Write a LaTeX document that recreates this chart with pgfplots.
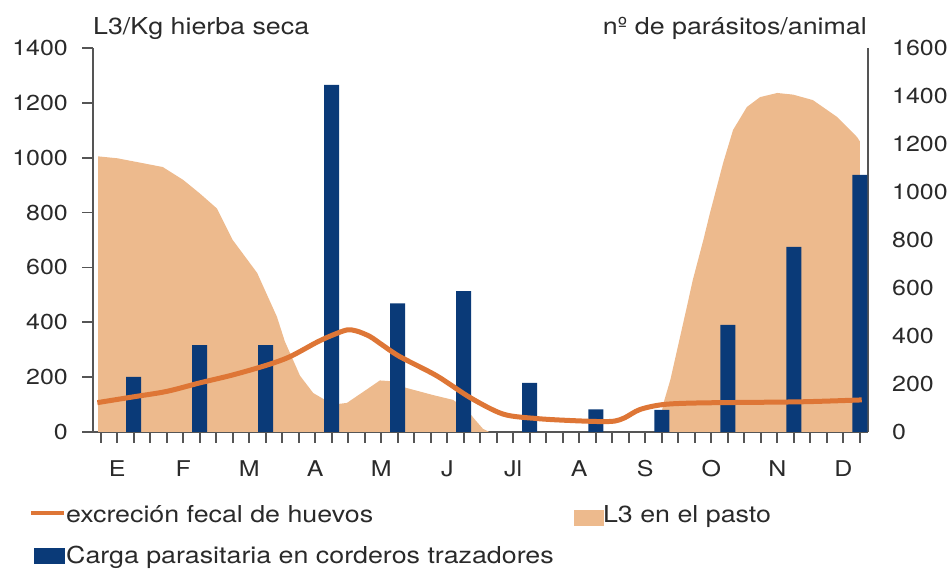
\documentclass[border=0pt]{standalone}
\usepackage{fontspec}
\setmainfont{TeX Gyre Heros}[FakeStretch=1.15]
\usepackage{pgfplots}
\pgfplotsset{compat=1.18}
\definecolor{areac}{HTML}{EDBA8D}
\definecolor{linec}{HTML}{DE7636}
\definecolor{barc}{HTML}{0A3A78}
\definecolor{axc}{HTML}{555555}
\definecolor{txt}{HTML}{2A2A2A}
\newcommand{\tickfont}{\fontsize{21.7bp}{26bp}\selectfont}
\newcommand{\bigfont}{\fontsize{23.3bp}{28bp}\selectfont}
\pgfplotsset{
  base/.style={at={(0,0)}, anchor=south west, scale only axis,
    width=775bp, height=384bp, xmin=-0.117, xmax=11.625,
    /pgf/number format/assume math mode=true,
    /pgf/number format/1000 sep={},
    tick label style={font=\tickfont, text=txt},
    axis line style={axc, line width=1.8bp},
    every tick/.style={axc, line width=1.6bp}}
}
\begin{document}
\begin{tikzpicture}[x=1bp,y=1bp]
\useasboundingbox (-93,-137) rectangle (854,432);
% left axis: area
\begin{axis}[base, ymin=0, ymax=1400,
  axis x line*=bottom, axis y line*=left,
  xtick={0.25,1.25,2.25,3.25,4.25,5.25,6.25,7.25,8.25,9.25,10.25,11.25},
  xticklabels={E,F,M,A,M,J,Jl,A,S,O,N,D},
  minor xtick={0,0.25,...,11.5},
  ytick={0,200,...,1400},
  tick align=outside,
  major tick length=11bp, minor tick length=11bp,
  yticklabel style={anchor=east, inner sep=0pt, xshift=-14bp},
  xticklabel style={anchor=north, inner sep=0pt, yshift=-17bp},
]
\addplot[fill=areac, draw=none] coordinates {
 (-0.04,1005) (0.25,998) (0.64,980) (0.94,966) (1.25,919) (1.5,870) (1.76,815)
 (2.0,700) (2.37,580) (2.52,500) (2.67,420) (2.79,330) (3.02,205) (3.22,142)
 (3.52,100) (3.73,106) (4.03,155) (4.23,188) (4.41,185) (4.58,164) (5.03,135)
 (5.34,117) (5.55,80) (5.67,45) (5.79,12) (5.89,0)} \closedcycle;
\addplot[fill=areac, draw=none] coordinates {
 (8.45,0) (8.52,100) (8.63,190) (8.88,456) (8.97,554) (9.13,700) (9.23,798)
 (9.43,981) (9.58,1101) (9.79,1185) (9.99,1221) (10.25,1236) (10.49,1230)
 (10.79,1210) (11.16,1148) (11.46,1075) (11.5,1060)} \closedcycle;
\end{axis}
% right axis: bars
\begin{axis}[base, ymin=0, ymax=1600,
  axis y line*=right, hide x axis,
  ytick={0,200,...,1600}, major tick length=0pt,
  yticklabel style={anchor=west, inner sep=0pt, xshift=24bp},
]
\addplot[ybar, bar width=15bp, fill=barc, draw=none] coordinates {
 (0.5,230) (1.5,362) (2.5,362) (3.5,1446) (4.5,536) (5.5,587)
 (6.5,205) (7.5,94) (8.5,92) (9.5,446) (10.5,771) (11.5,1071)};
\end{axis}
% line + legend
\begin{axis}[base, ymin=0, ymax=1400, hide axis,
  legend columns=2,
  legend cell align=left,
  legend style={at={(axis description cs:-0.0826,-0.1927)}, anchor=north west,
    draw=none, fill=none, inner sep=0pt, font=\bigfont, text=txt,
    nodes={inner sep=0pt, text height=16bp, text depth=5bp},
    row sep=20bp,
    /tikz/every even column/.append style={column sep=20bp}},
]
\addplot[linec, line width=5bp, smooth, tension=0.5, forget plot] coordinates {
 (-0.04,107) (0.0,109) (0.49,128) (1.0,148) (1.5,179) (2.0,208) (2.52,244)
 (2.87,275) (3.28,328) (3.52,354) (3.73,372) (3.88,368) (4.08,348) (4.28,315)
 (4.53,275) (5.09,205) (5.6,125) (6.1,65) (6.61,49) (7.1,42) (7.57,38)
 (7.79,40) (7.94,52) (8.17,82) (8.52,100) (9.08,106) (10.59,110) (11.53,117)};
\addlegendimage{legend image code/.code={\draw[linec, line width=4bp] (0bp,3.5bp) -- (33bp,3.5bp);}}
\addlegendentry{excreción fecal de huevos}
\addlegendimage{legend image code/.code={\fill[areac] (4bp,-8.5bp) rectangle (33bp,6.5bp);}}
\addlegendentry{L3 en el pasto}
\addlegendimage{legend image code/.code={\fill[barc] (3bp,-5.5bp) rectangle (33bp,9.5bp);}}
\addlegendentry{Carga parasitaria en corderos trazadores}
\end{axis}
\node[anchor=base west, inner sep=0pt, font=\bigfont, text=txt] at (0,397) {L3/Kg hierba seca};
\node[anchor=base east, inner sep=0pt, font=\bigfont, text=txt] at (774,397) {nº de parásitos/animal};
\end{tikzpicture}
\end{document}
